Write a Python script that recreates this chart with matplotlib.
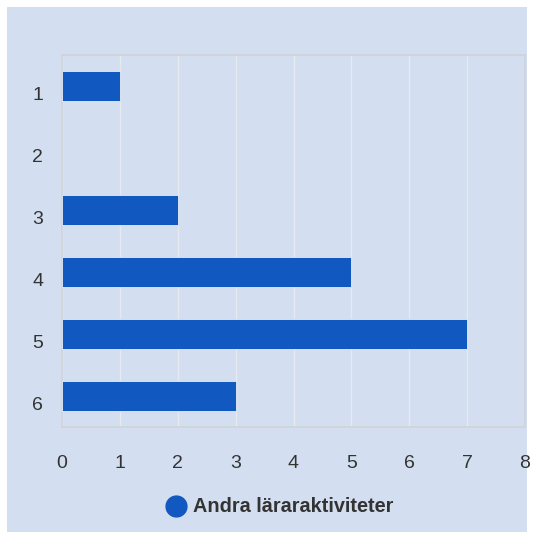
import matplotlib.pyplot as plt
import matplotlib.transforms as mtransforms
from matplotlib.patches import Rectangle
from matplotlib.lines import Line2D

# data
categories = ["1", "2", "3", "4", "5", "6"]
values = [1, 0, 2, 5, 7, 3]
series_name = "Andra läraraktiviteter"
x_ticks = [0, 1, 2, 3, 4, 5, 6, 7, 8]

bg = "#d3dff0"
bar_color = "#1158c0"
text_color = "#333333"

plt.rcParams['font.family'] = ['Liberation Sans', 'DejaVu Sans']

fig = plt.figure(figsize=(5.35, 5.4), dpi=100, facecolor="white")
# light blue panel
fig.patches.append(Rectangle((7 / 535, 8 / 540), 520 / 535, 525 / 540,
                             transform=fig.transFigure, facecolor=bg,
                             edgecolor="none", zorder=-1))

ax = fig.add_axes([62 / 535, 1 - 427 / 540, 463 / 535, 372 / 540])
ax.set_zorder(1)
ax.set_facecolor(bg)

ypos = range(len(categories))
ax.barh(ypos, values, height=0.48, color=bar_color, edgecolor="#e6ecf5",
        linewidth=[0.6 if v else 0 for v in values], zorder=3)

ax.set_xlim(0, 8)
ax.set_ylim(len(categories) - 0.5, -0.5)
ax.set_xticks(x_ticks)
ax.set_yticks(list(ypos))
ax.set_yticklabels(categories)
ax.tick_params(axis="x", length=0, pad=20, labelsize=14, labelcolor=text_color)
ax.tick_params(axis="y", length=0, pad=13.5, labelsize=14, labelcolor=text_color)

# y labels sit a little below the bar centres
shift = mtransforms.ScaledTranslation(0, -8 / 100, fig.dpi_scale_trans)
for lbl in ax.get_yticklabels():
    lbl.set_transform(lbl.get_transform() + shift)

ax.grid(axis="x", color="#e6e9ee", linewidth=1, zorder=1)
for s in ax.spines.values():
    s.set_color("#d0d3d9")
    s.set_linewidth(1.3)

handle = Line2D([], [], marker="o", linestyle="none", markersize=15,
                markerfacecolor=bar_color, markeredgecolor=bar_color)
leg = fig.legend([handle], [series_name], loc="center", bbox_to_anchor=(0.523, 1 - 507 / 540),
                 frameon=False, handletextpad=0.35, handlelength=1.0,
                 prop={"weight": "bold", "size": 14.3}, labelcolor=text_color)
leg.set_zorder(2)

fig.savefig("out.png", dpi=100, facecolor="white")
